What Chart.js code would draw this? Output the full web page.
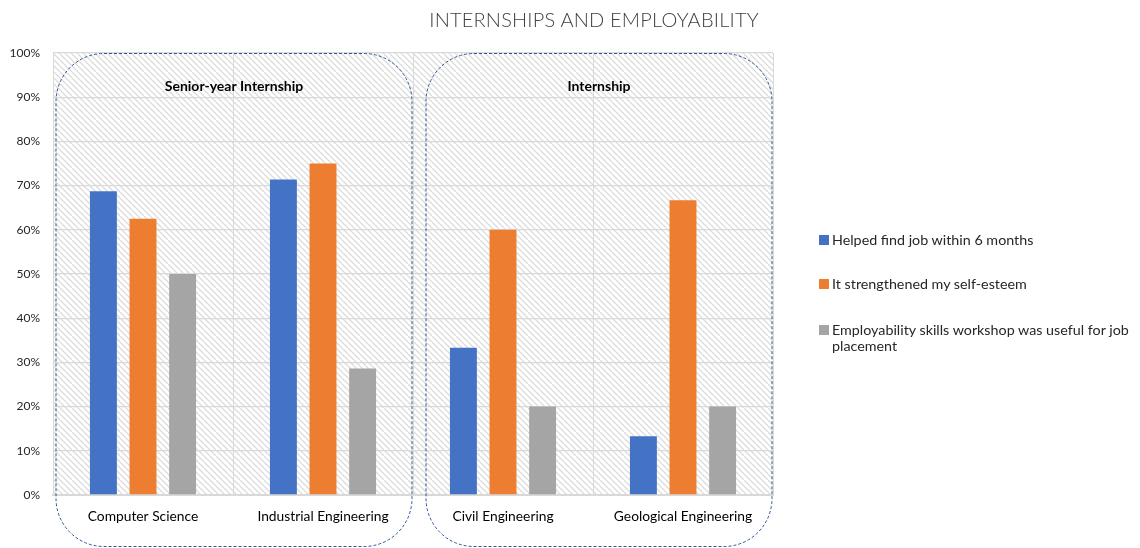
<!DOCTYPE html>
<html><head><meta charset="utf-8">
<script src="https://cdn.jsdelivr.net/npm/chart.js@4"></script>
<style>
body{margin:0;background:#fff;font-family:Lato,"Open Sans",sans-serif;}
#wrap{position:relative;width:1140px;height:548px;overflow:hidden}
#title{position:absolute;top:7px;left:394px;width:400px;text-align:center;font-size:20px;font-weight:300;color:#404040;letter-spacing:0.2px}
#legend{position:absolute;left:819px;top:0;width:321px}
.li{position:absolute;left:0;display:flex;align-items:flex-start;font-size:14.3px;color:#262626;line-height:16px;width:321px}
.sw{width:10px;height:10px;margin-top:3px;margin-right:3px;flex:none}
</style></head>
<body><div id="wrap"><canvas id="c" width="1140" height="548"></canvas>
<div id="title">INTERNSHIPS AND EMPLOYABILITY</div>
<div id="legend"></div></div>
<script>
const categories = ['Computer Science','Industrial Engineering','Civil Engineering','Geological Engineering'];
const seriesNames = ['Helped find job within 6 months','It strengthened my self-esteem','Employability skills workshop was useful for job placement'];
const helpedFindJob = [68.75, 71.4, 33.3, 13.3];
const selfEsteem = [62.5, 75.0, 60.0, 66.7];
const workshopUseful = [50.0, 28.6, 20.0, 20.0];
const yTicks = [0,10,20,30,40,50,60,70,80,90,100];
const groupLabels = ['Senior-year Internship','Internship'];
const groupSpans = [[0,1],[2,3]];
const colors = ['#4472C4','#ED7D31','#A5A5A5'];

// legend
const legTops = [232, 276, 322];
const leg = document.getElementById('legend');
seriesNames.forEach((n,i)=>{
  const d=document.createElement('div');d.className='li';d.style.top=legTops[i]+'px';
  d.innerHTML='<span class="sw" style="background:'+colors[i]+'"></span><span style="width:306px">'+n+'</span>';
  leg.appendChild(d);
});

function hatch(){
  const s=6, c=document.createElement('canvas'); c.width=s;c.height=s;
  const g=c.getContext('2d'); g.strokeStyle='#dcdcdc'; g.lineWidth=1.3;
  for(let k=-1;k<=1;k++){g.beginPath();g.moveTo(k*s,0);g.lineTo(k*s+s,s);g.stroke();}
  return c;
}
const bgPlugin={id:'bg',beforeDraw(chart){
  const {ctx,chartArea:a}=chart; const p=ctx.createPattern(hatch(),'repeat');
  ctx.save();ctx.fillStyle=p;ctx.fillRect(a.left,a.top,a.right-a.left,a.bottom-a.top);ctx.restore();
}};
const boxPlugin={id:'boxes',afterDraw(chart){
  const {ctx,chartArea:a}=chart; const x=chart.scales.x;
  const hw=(x.getPixelForValue(1)-x.getPixelForValue(0))/2;
  const insetL=[3,13];
  groupSpans.forEach((sp,i)=>{
    const l=x.getPixelForValue(sp[0])-hw+insetL[i], r=x.getPixelForValue(sp[1])+hw-1;
    const t=a.top+0.5, b=chart.height-1.5, rad=48;
    ctx.save();ctx.strokeStyle='#2F5597';ctx.lineWidth=1;ctx.setLineDash([3,2]);
    ctx.beginPath();ctx.roundRect(l,t,r-l,b-t,rad);ctx.stroke();ctx.restore();
    ctx.save();ctx.fillStyle='#000';ctx.font='bold 14px Lato, "Open Sans", sans-serif';ctx.textAlign='center';ctx.textBaseline='middle';
    ctx.fillText(groupLabels[i],(l+r)/2,86);ctx.restore();
  });
}};

new Chart(document.getElementById('c'),{
  type:'bar',
  data:{labels:categories,datasets:[
    {label:seriesNames[0],data:helpedFindJob,backgroundColor:colors[0]},
    {label:seriesNames[1],data:selfEsteem,backgroundColor:colors[1]},
    {label:seriesNames[2],data:workshopUseful,backgroundColor:colors[2]}
  ].map(d=>Object.assign(d,{categoryPercentage:0.66,barPercentage:0.68}))},
  options:{responsive:false,animation:false,devicePixelRatio:1,
    layout:{padding:{left:0,top:53,right:367,bottom:0}},
    plugins:{legend:{display:false},tooltip:{enabled:false},title:{display:false}},
    scales:{
      x:{grid:{color:'#d9d9d9',drawTicks:false,offset:true,lineWidth:1},
         border:{color:'#d9d9d9',width:2},
         ticks:{color:'#000',font:{family:'Lato',size:13.8},padding:13,maxRotation:0},
         afterFit(s){s.height=53;}},
      y:{min:0,max:100,afterBuildTicks(s){s.ticks=yTicks.map(v=>({value:v}));},
         grid:{color:'#d9d9d9',drawTicks:false,lineWidth:1.3},
         border:{display:false},
         ticks:{color:'#262626',font:{family:'Lato',size:12},padding:13,callback:v=>v+'%'},
         afterFit(s){s.width=53;}}
    }},
  plugins:[bgPlugin,boxPlugin]
});
</script></body></html>
